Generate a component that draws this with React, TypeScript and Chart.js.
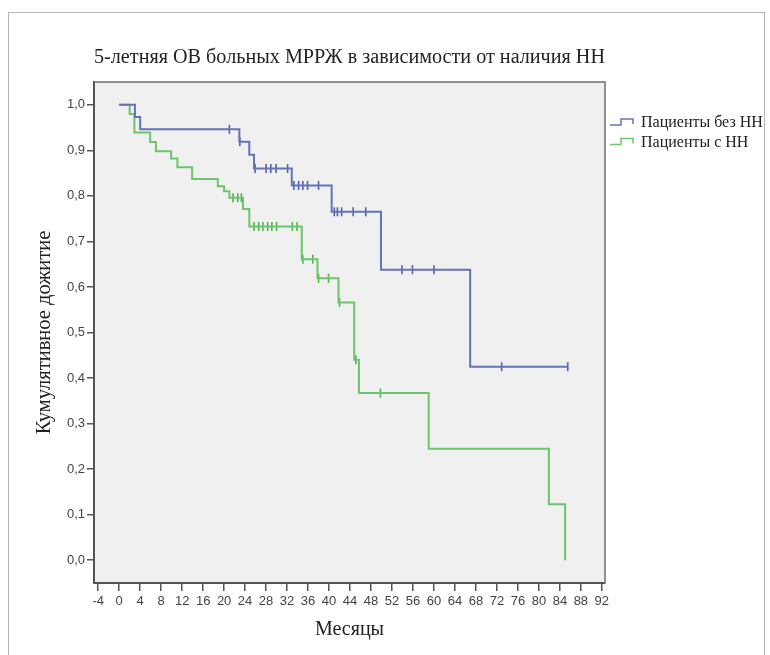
import React, { useEffect, useRef } from "react";
import { Chart, registerables } from "chart.js";

Chart.register(...registerables);

const chartTitle = "5-летняя ОВ больных МРРЖ в зависимости от наличия НН";
const xAxisTitle = "Месяцы";
const yAxisTitle = "Кумулятивное дожитие";
const seriesNames = ["Пациенты без НН", "Пациенты с НН"];
const seriesColors = ["#6373b8", "#6cc46c"];
const censorColors = ["#4f5fae", "#4fb44f"];

const xTicks = [-4, 0, 4, 8, 12, 16, 20, 24, 28, 32, 36, 40, 44, 48, 52, 56, 60, 64, 68, 72, 76, 80, 84, 88, 92];
const yTicks = [0, 0.1, 0.2, 0.3, 0.4, 0.5, 0.6, 0.7, 0.8, 0.9, 1.0];

// Пациенты без НН — event times (months) and survival after each event
const blueTimes = [0, 3.0, 4.0, 22.9, 24.8, 25.7, 32.9, 40.5, 49.9, 66.9, 85.5];
const blueSurv = [1.0, 0.973, 0.946, 0.919, 0.89, 0.86, 0.823, 0.765, 0.638, 0.425, 0.425];
const blueCensorTimes = [21.0, 23.0, 25.9, 28.0, 28.9, 29.9, 32.1, 33.3, 34.2, 35.0, 35.9, 38.0, 41.0, 41.6, 42.4, 44.6, 47.0, 53.9, 55.9, 60.0, 72.9, 85.5];

// Пациенты с НН
const greenTimes = [0, 2.0, 2.9, 5.9, 7.0, 9.9, 11.1, 13.9, 18.8, 20.0, 21.0, 23.6, 24.8, 34.8, 37.8, 41.8, 44.8, 45.7, 59.0, 81.9, 85.0];
const greenSurv = [1.0, 0.98, 0.939, 0.918, 0.898, 0.882, 0.863, 0.837, 0.821, 0.81, 0.796, 0.771, 0.733, 0.661, 0.619, 0.566, 0.44, 0.367, 0.245, 0.123, 0.0];
const greenCensorTimes = [21.7, 22.6, 23.3, 25.7, 26.6, 27.4, 28.3, 29.1, 30.0, 33.0, 33.9, 35.0, 36.9, 38.0, 39.9, 42.0, 45.1, 49.8];

function survAt(times: number[], surv: number[], t: number): number {
  let s = surv[0];
  for (let i = 0; i < times.length; i++) {
    if (times[i] <= t) s = surv[i];
  }
  return s;
}

function App() {
  const canvasRef = useRef<HTMLCanvasElement | null>(null);

  useEffect(() => {
    const canvas = canvasRef.current;
    if (!canvas) return;

    const curve = (times: number[], surv: number[]) => times.map((t, i) => ({ x: t, y: surv[i] }));
    const censors = (ct: number[], times: number[], surv: number[]) =>
      ct.map((t) => ({ x: t, y: survAt(times, surv, t) }));

    const bgPlugin = {
      id: "plotBg",
      beforeDraw(chart: any) {
        const { ctx, chartArea } = chart;
        ctx.save();
        ctx.fillStyle = "#f0f0f0";
        ctx.fillRect(chartArea.left, chartArea.top, chartArea.right - chartArea.left, chartArea.bottom - chartArea.top);
        ctx.restore();
      },
      afterDraw(chart: any) {
        const { ctx, chartArea } = chart;
        ctx.save();
        ctx.strokeStyle = "#707070";
        ctx.lineWidth = 1.5;
        ctx.beginPath();
        ctx.moveTo(chartArea.left, chartArea.top);
        ctx.lineTo(chartArea.right, chartArea.top);
        ctx.lineTo(chartArea.right, chartArea.bottom);
        ctx.stroke();

        // legend
        const lx = chartArea.right + 5;
        for (let i = 0; i < seriesNames.length; i++) {
          const y = 123 + i * 19.5;
          ctx.strokeStyle = seriesColors[i];
          ctx.lineWidth = 1.5;
          ctx.beginPath();
          ctx.moveTo(lx, y + 2);
          ctx.lineTo(lx + 11, y + 2);
          ctx.lineTo(lx + 11, y - 4);
          ctx.lineTo(lx + 23, y - 4);
          ctx.lineTo(lx + 23, y + 1);
          ctx.stroke();
          ctx.fillStyle = "#222";
          ctx.font = '16px "Liberation Serif"';
          ctx.textBaseline = "middle";
          ctx.textAlign = "left";
          ctx.fillText(seriesNames[i], lx + 31, y);
        }
        ctx.restore();
      },
    };

    const chart = new Chart(canvas, {
      type: "line",
      data: {
        datasets: [
          {
            label: seriesNames[0],
            data: curve(blueTimes, blueSurv),
            borderColor: seriesColors[0],
            borderWidth: 2,
            pointRadius: 0,
            stepped: "before",
            fill: false,
          },
          {
            label: seriesNames[1],
            data: curve(greenTimes, greenSurv),
            borderColor: seriesColors[1],
            borderWidth: 2,
            pointRadius: 0,
            stepped: "before",
            fill: false,
          },
          {
            label: seriesNames[0] + " censored",
            data: censors(blueCensorTimes, blueTimes, blueSurv),
            showLine: false,
            pointStyle: "line",
            rotation: 90,
            pointRadius: 4.5,
            borderWidth: 1.6,
            borderColor: censorColors[0],
            backgroundColor: censorColors[0],
          },
          {
            label: seriesNames[1] + " censored",
            data: censors(greenCensorTimes, greenTimes, greenSurv),
            showLine: false,
            pointStyle: "line",
            rotation: 90,
            pointRadius: 4.5,
            borderWidth: 1.6,
            borderColor: censorColors[1],
            backgroundColor: censorColors[1],
          },
        ] as any,
      },
      options: {
        responsive: false,
        animation: false,
        devicePixelRatio: 1,
        layout: { padding: { top: 0, left: 0, right: 165, bottom: 0 } },
        plugins: {
          legend: { display: false },
          tooltip: { enabled: false },
          title: {
            display: true,
            text: chartTitle,
            fullSize: false,
            color: "#222",
            font: { family: "Liberation Serif", size: 20.5, weight: "normal", lineHeight: 1.2 },
            padding: { top: 45, bottom: 12.4 },
          },
        },
        scales: {
          x: {
            type: "linear",
            min: -4.8,
            max: 92.6,
            afterBuildTicks: (s: any) => {
              s.ticks = xTicks.map((v) => ({ value: v }));
            },
            afterFit: (s: any) => {
              s.height = 72;
            },
            ticks: {
              autoSkip: false,
              maxRotation: 0,
              padding: 3,
              color: "#444",
              font: { family: "Liberation Sans", size: 13 },
              callback: (v: any) => String(v),
            },
            grid: { display: true, drawOnChartArea: false, drawTicks: true, tickLength: 8, color: "#555", lineWidth: 1.5 },
            border: { display: true, color: "#555", width: 2 },
            title: {
              display: true,
              text: xAxisTitle,
              color: "#222",
              font: { family: "Liberation Serif", size: 20 },
              padding: { top: 0, bottom: 13 },
            },
          },
          y: {
            type: "linear",
            min: -0.05,
            max: 1.05,
            afterBuildTicks: (s: any) => {
              s.ticks = yTicks.map((v) => ({ value: v }));
            },
            afterFit: (s: any) => {
              s.width = 94;
            },
            ticks: {
              autoSkip: false,
              padding: 2,
              color: "#444",
              font: { family: "Liberation Sans", size: 13 },
              callback: (v: any) => Number(v).toFixed(1).replace(".", ","),
            },
            grid: { display: true, drawOnChartArea: false, drawTicks: true, tickLength: 7, color: "#555", lineWidth: 1.5 },
            border: { display: true, color: "#555", width: 2 },
            title: {
              display: true,
              text: yAxisTitle,
              color: "#222",
              font: { family: "Liberation Serif", size: 20.5 },
              padding: { top: 32, bottom: 0 },
            },
          },
        },
      } as any,
      plugins: [bgPlugin],
    });

    return () => {
      chart.destroy();
    };
  }, []);

  return (
    <div style={{ position: "absolute", left: 0, top: 0, width: 770, height: 655, background: "#fff", overflow: "hidden" }}>
      <div
        style={{
          position: "absolute",
          left: 8,
          top: 12,
          width: 757,
          height: 700,
          border: "1px solid #b4b4b4",
          boxSizing: "border-box",
        }}
      />
      <canvas ref={canvasRef} width={770} height={655} style={{ position: "absolute", left: 0, top: 0, width: 770, height: 655 }} />
    </div>
  );
}

export default App;
